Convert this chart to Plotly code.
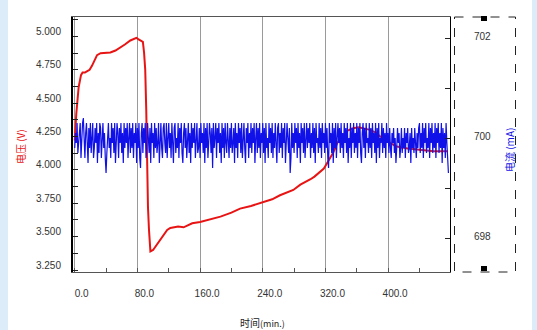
import plotly.graph_objects as go

# Voltage trace (time in min, volts)
time_v = [0, 2, 5, 8, 10, 13, 16, 19, 22, 25, 28.5, 33, 39, 45.5, 52, 58, 64, 71, 76, 78.7, 81, 83.6, 87,
          88.5, 90, 91.3, 92.3, 93.5, 94.8, 96.6, 100, 105, 109, 114, 118, 122, 126, 132, 139, 150, 160,
          175, 186, 200, 211, 225, 240, 252, 262, 272, 279, 288, 295, 301, 306, 312, 318, 322, 326, 330,
          335, 341, 347, 354, 362, 370, 377, 384, 390, 400, 411, 425, 441, 458, 476]
voltage = [4.22, 4.42, 4.62, 4.71, 4.73, 4.73, 4.74, 4.75, 4.78, 4.82, 4.86, 4.875, 4.875, 4.88, 4.895,
           4.915, 4.94, 4.97, 4.98, 4.99, 4.98, 4.97, 4.96, 4.88, 4.75, 4.45, 3.95, 3.72, 3.55, 3.39,
           3.40, 3.44, 3.48, 3.52, 3.55, 3.565, 3.57, 3.575, 3.57, 3.60, 3.61, 3.63, 3.65, 3.68, 3.71,
           3.73, 3.76, 3.78, 3.81, 3.83, 3.85, 3.89, 3.91, 3.93, 3.95, 3.98, 4.01, 4.05, 4.09, 4.13,
           4.20, 4.25, 4.29, 4.31, 4.32, 4.31, 4.30, 4.28, 4.25, 4.21, 4.175, 4.16, 4.15, 4.14, 4.14]

# Current trace (mA), one reading per minute
current = [
    699.8, 700.1, 699.9, 700.3, 699.7, 699.9, 700.2, 700.3, 699.6, 700.0, 700.3, 700.4, 699.8, 699.6, 700.1, 700.3, 699.9, 699.5, 700.2, 699.8,
    700.3, 699.7, 700.0, 700.3, 699.6, 699.8, 700.2, 699.9, 700.3, 699.5, 700.1, 699.7, 700.3, 700.2, 699.6, 699.9, 700.3, 699.8, 700.1, 699.6,
    699.3, 699.7, 700.2, 700.3, 699.8, 700.0, 699.6, 700.3, 699.9, 700.2, 699.7, 700.3, 699.5, 699.8, 700.3, 700.1, 699.6, 700.2, 699.9, 700.3,
    699.7, 700.1, 699.5, 700.3, 699.8, 700.2, 699.9, 700.3, 699.6, 700.0, 700.3, 699.7, 700.2, 699.8, 700.3, 699.6, 700.1, 699.9, 700.3, 699.5,
    700.2, 699.8, 700.3, 699.6, 699.4, 700.1, 700.3, 699.7, 700.2, 699.9, 700.3, 699.6, 699.8, 700.3, 700.0, 699.7, 700.2, 699.5, 700.3, 699.9,
    700.1, 699.6, 700.3, 699.8, 700.2, 699.7, 699.9, 700.3, 699.5, 700.1, 700.3, 699.8, 699.6, 700.2, 700.3, 699.9, 699.7, 700.3, 699.6, 700.0,
    700.3, 699.8, 700.1, 699.6, 700.3, 699.9, 699.5, 700.2, 700.3, 699.7, 700.0, 699.8, 700.3, 699.6, 700.2, 699.9, 700.3, 699.7, 699.5, 700.1,
    700.3, 699.8, 700.2, 699.6, 699.9, 700.3, 699.7, 700.1, 699.5, 700.3, 699.8, 700.2, 699.9, 700.3, 699.6, 700.0, 700.3, 699.7, 699.8, 700.2,
    699.6, 700.3, 699.9, 700.1, 699.7, 700.3, 699.5, 700.2, 699.8, 700.3, 699.6, 699.9, 700.3, 700.1, 699.7, 700.2, 699.4, 700.3, 699.8, 700.0,
    700.3, 699.6, 700.2, 699.9, 700.3, 699.7, 700.1, 699.5, 700.3, 699.8, 700.2, 699.6, 700.3, 699.9, 699.7, 700.3, 700.0, 699.6, 700.2, 699.8,
    700.3, 699.7, 699.9, 700.2, 699.5, 700.3, 699.8, 700.1, 699.6, 700.3, 699.9, 700.2, 699.7, 700.3, 699.6, 700.0, 700.3, 699.8, 699.5, 700.2,
    699.9, 700.3, 699.6, 700.1, 699.8, 700.3, 699.7, 700.2, 699.9, 700.3, 699.5, 700.0, 700.3, 699.7, 700.2, 699.8, 700.3, 699.6, 700.1, 699.9,
    700.3, 699.7, 700.2, 699.5, 700.3, 699.8, 700.0, 699.6, 700.3, 699.9, 700.2, 699.7, 700.3, 699.6, 700.1, 699.8, 700.3, 699.9, 699.5, 700.2,
    700.3, 699.7, 700.1, 699.8, 700.3, 699.6, 700.2, 699.9, 700.3, 699.5, 699.8, 700.3, 700.0, 699.7, 700.2, 699.3, 699.6, 700.3, 699.8, 700.1,
    699.7, 700.3, 699.9, 700.2, 699.6, 700.3, 699.8, 700.1, 699.5, 700.3, 699.9, 700.2, 699.7, 700.3, 699.6, 700.0, 700.3, 699.8, 700.2, 699.9,
    700.3, 699.6, 700.1, 699.8, 700.3, 699.7, 700.2, 699.5, 700.3, 699.9, 700.0, 699.7, 700.3, 699.8, 700.2, 699.6, 700.3, 699.9, 700.1, 699.7,
    700.3, 699.8, 700.2, 699.6, 699.4, 700.3, 699.9, 700.1, 699.7, 700.3, 699.5, 700.2, 699.8, 700.3, 699.6, 700.0, 700.3, 699.9, 700.2, 699.7,
    700.3, 699.8, 700.1, 699.6, 700.3, 699.9, 700.2, 699.7, 700.3, 699.5, 700.0, 699.8, 700.3, 699.6, 700.2, 699.9, 700.3, 699.7, 700.1, 699.8,
    700.3, 699.6, 700.2, 699.9, 700.3, 699.7, 699.5, 700.1, 700.3, 699.8, 700.2, 699.6, 700.3, 699.9, 700.0, 699.7, 700.3, 699.8, 700.2, 699.6,
    700.3, 699.9, 700.1, 699.7, 700.3, 699.5, 700.2, 699.8, 700.3, 699.6, 700.0, 699.9, 700.3, 699.7, 700.2, 699.8, 700.1, 699.6, 700.3, 699.9,
    700.1, 699.7, 700.2, 699.8, 699.6, 700.1, 699.9, 700.2, 699.7, 700.0, 699.5, 699.8, 700.2, 699.9, 700.1, 699.6, 699.8, 700.2, 699.7, 700.0,
    699.8, 700.2, 699.6, 700.1, 699.9, 700.2, 699.7, 699.8, 700.1, 699.5, 700.2, 699.8, 700.0, 699.7, 700.2, 699.9, 699.6, 700.1, 699.8, 700.2,
    700.3, 699.7, 700.1, 699.8, 700.3, 699.6, 700.2, 699.9, 700.3, 699.7, 700.0, 699.8, 700.3, 699.6, 700.2, 699.9, 700.3, 699.7, 700.1, 699.8,
    700.3, 699.6, 700.2, 699.9, 700.3, 699.7, 700.1, 699.8, 700.3, 699.5, 700.2, 699.8, 700.1, 699.6, 700.3, 699.9, 699.4, 699.3,
]
time_i = list(range(len(current)))

W, H = 537, 330
L, R, T, B = 73, 87, 17, 58


def px(x):
    return (x - L) / (W - L - R)


def py(y):
    return (H - B - y) / (H - T - B)


tick_font = dict(family="Liberation Sans, Arial, sans-serif", size=10, color="#333333")
cjk = "Noto Sans CJK SC, sans-serif"

fig = go.Figure()
fig.add_trace(go.Scatter(x=time_v, y=voltage, mode="lines",
                         line=dict(color="#e81414", width=2), yaxis="y", showlegend=False))
fig.add_trace(go.Scatter(x=time_i, y=current, mode="lines",
                         line=dict(color="#1010e8", width=1.2), yaxis="y2", showlegend=False))

fig.update_layout(
    width=W, height=H,
    margin=dict(l=L, r=R, t=T, b=B, pad=0),
    paper_bgcolor="white", plot_bgcolor="white",
    xaxis=dict(range=[-2.2, 479], tickmode="linear", tick0=0, dtick=80, tickformat=".1f",
               ticks="inside", ticklen=4, tickcolor="#555555",
               showgrid=True, gridcolor="#9a9a9a", gridwidth=1, zeroline=False,
               showline=True, linecolor="#555555", linewidth=1, mirror=True,
               tickfont=tick_font, ticklabelstandoff=12, ticklabelshift=7,
               minor=dict(dtick=40, tick0=0, ticks="inside", ticklen=4, tickcolor="#555555", showgrid=False)),
    yaxis=dict(range=[3.235, 5.146], tickmode="linear", tick0=3.25, dtick=0.25, tickformat=".3f",
               ticks="inside", ticklen=5, tickcolor="#222222",
               showgrid=False, zeroline=False,
               showline=True, linecolor="black", linewidth=2,
               tickfont=tick_font, ticklabelstandoff=8, ticklabelshift=-5,
               minor=dict(dtick=0.125, tick0=3.25, ticks="inside", ticklen=5, tickcolor="#222222")),
    yaxis2=dict(range=[697.32, 702.42], overlaying="y", side="right",
                tickvals=[698, 699, 700, 701, 702], ticktext=["698", "", "700", "", "702"],
                ticks="inside", ticklen=5, tickcolor="#222222",
                showgrid=False, zeroline=False,
                showline=True, linecolor="black", linewidth=1,
                tickfont=tick_font, ticklabelstandoff=21, ticklabelshift=-2),
)

annotations = [
    dict(text="电压 (V)", x=px(20), y=py(147), textangle=-90,
         font=dict(family=cjk, size=10, color="#e81414")),
    dict(text="电流 (mA)", x=px(510), y=py(150), textangle=-90,
         font=dict(family=cjk, size=10, color="#1414e6")),
    dict(text="时间<span style='font-size:9px'>(min.)</span>", x=px(262), y=py(322),
         font=dict(family=cjk, size=10, color="#222222")),
]
for a in annotations:
    a.update(xref="paper", yref="paper", showarrow=False, xanchor="center", yanchor="middle")
fig.update_layout(annotations=annotations)

shapes = [
    # light side strips of the panel
    dict(type="rect", x0=px(0), x1=px(8), y0=py(0), y1=py(H), fillcolor="#dcecf8",
         line=dict(width=0), layer="below"),
    dict(type="rect", x0=px(532), x1=px(W), y0=py(0), y1=py(H), fillcolor="#dcecf8",
         line=dict(width=0), layer="below"),
    # dashed box holding the current scale
    dict(type="rect", x0=px(454.5), x1=px(515.5), y0=py(17), y1=py(272),
         line=dict(color="#222222", width=1, dash="dash")),
    # scroll handles
    dict(type="rect", x0=px(481), x1=px(487), y0=py(16), y1=py(21), fillcolor="black",
         line=dict(width=0)),
    dict(type="rect", x0=px(481), x1=px(487), y0=py(266), y1=py(271), fillcolor="black",
         line=dict(width=0)),
]
for s in shapes:
    s.update(xref="paper", yref="paper")
fig.update_layout(shapes=shapes)

fig.write_html("out.html")
